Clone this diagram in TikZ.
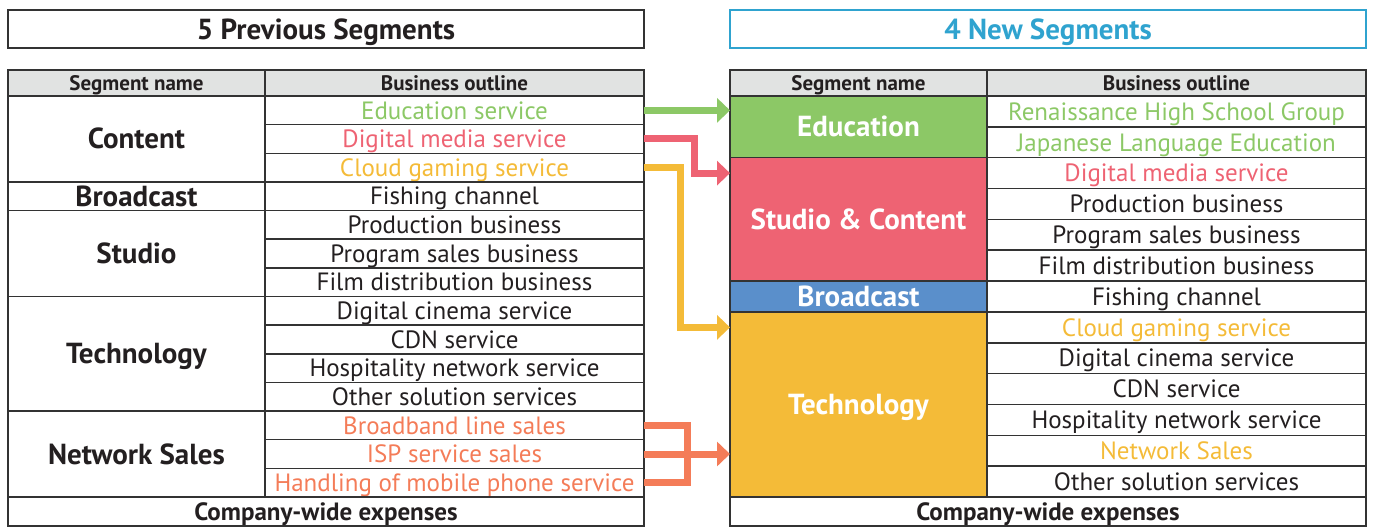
\documentclass[tikz,border=0pt]{standalone}
\usepackage{fontspec}
\setmainfont{PT Sans}
\usetikzlibrary{positioning,arrows.meta}
\definecolor{ink}{HTML}{231F20}
\definecolor{rule}{HTML}{333333}
\definecolor{hdrgray}{HTML}{E1E3E2}
\definecolor{newblue}{HTML}{2FA3CF}
\definecolor{edu}{HTML}{8CC866}
\definecolor{studio}{HTML}{EE6373}
\definecolor{bcast}{HTML}{5A8FCB}
\definecolor{tech}{HTML}{F4BB38}
\definecolor{netsales}{HTML}{F47C58}
%
\tikzstyle{cell}=[draw=rule,line width=1.5pt,inner sep=0,outer sep=0,anchor=north west,text=ink,text depth=0pt]
\tikzstyle{title}=[cell,minimum width=636,minimum height=38,text height=20pt,font=\fontsize{29}{29}\selectfont\bfseries]
\tikzstyle{hdr}=[cell,fill=hdrgray,minimum height=26,text height=14.5pt,font=\fontsize{21}{21}\selectfont\bfseries]
\tikzstyle{item}=[cell,text height=17.5pt,font=\fontsize{25}{25}\selectfont]
\tikzstyle{seg}=[cell,text height=20pt,font=\fontsize{29}{29}\selectfont\bfseries]
\tikzstyle{total}=[cell,minimum width=636,minimum height=29,text height=17.5pt,font=\fontsize{25}{25}\selectfont\bfseries]
\tikzstyle{flow}=[line width=7pt,-{Triangle[length=13pt,width=24pt]}]
\tikzstyle{bracket}=[line width=7pt]

\begin{document}
\begin{tikzpicture}[x=1pt,y=-1pt]
\useasboundingbox (0,0) rectangle (1375,528);
%
% previous segments
\node[title] (oldtitle) at (8,10) {5 Previous Segments};
\node[hdr,minimum width=257] (oldhA) at (8,70) {Segment name};
\node[hdr,minimum width=379] (oldhB) at (265,70) {Business outline};
\foreach \txt/\first/\n in {Content/0/3,Broadcast/3/1,Studio/4/3,Technology/7/4,Network Sales/11/3}
  \node[seg,minimum width=257,minimum height={\n*28.64}] (ls\first) at (8,{96+\first*28.64}) {\txt};
\foreach \txt/\col [count=\i from 0] in {Education service/edu,Digital media service/studio,
    Cloud gaming service/tech,Fishing channel/ink,Production business/ink,Program sales business/ink,
    Film distribution business/ink,Digital cinema service/ink,CDN service/ink,
    Hospitality network service/ink,Other solution services/ink,Broadband line sales/netsales,
    ISP service sales/netsales,Handling of mobile phone service/netsales}
  \node[item,text=\col,minimum width=379,minimum height=28.64] (lb\i) at (265,{96+\i*28.64}) {\txt};
\node[total] (oldtotal) at (8,497) {Company-wide expenses};
%
% new segments
\node[title,draw=newblue,text=newblue] (newtitle) at (730,10) {4 New Segments};
\node[hdr,minimum width=257] (newhA) at (730,70) {Segment name};
\node[hdr,minimum width=379] (newhB) at (987,70) {Business outline};
\foreach \txt/\col/\first/\n in {Education/edu/0/2,Studio \& Content/studio/2/4,Broadcast/bcast/6/1,Technology/tech/7/6}
  \node[seg,fill=\col,text=white,minimum width=257,minimum height={\n*30.846}] (seg-\col) at (730,{96+\first*30.846}) {\txt};
\foreach \txt/\col [count=\i from 0] in {Renaissance High School Group/edu,Japanese Language Education/edu,
    Digital media service/studio,Production business/ink,Program sales business/ink,
    Film distribution business/ink,Fishing channel/ink,Cloud gaming service/tech,
    Digital cinema service/ink,CDN service/ink,Hospitality network service/ink,
    Network Sales/tech,Other solution services/ink}
  \node[item,text=\col,minimum width=379,minimum height=30.846] (rb\i) at (987,{96+\i*30.846}) {\txt};
\node[total] (newtotal) at (730,497) {Company-wide expenses};
%
% moves between the two tables
\draw[flow,edu] (lb0.east) -- (lb0.east -| seg-edu.west);
\draw[flow,studio] (lb1.east) -- ++(50,0) |- (rb2.west -| seg-studio.west);
\draw[flow,tech] (lb2.east) -- ++(36,0) |- (rb7.west -| seg-tech.west);
\coordinate (nsjoin) at (687,454);
\draw[bracket,netsales] (lb11.east) -| (nsjoin) |- (lb13.east);
\draw[flow,netsales] (lb12.east) -- (lb12.east -| seg-tech.west);
\end{tikzpicture}
\end{document}
